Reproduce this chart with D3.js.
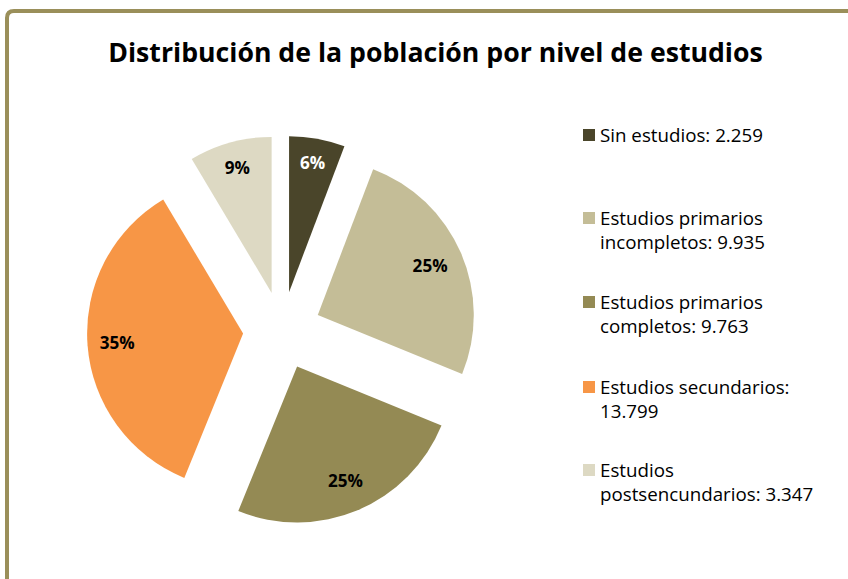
<!DOCTYPE html>
<html><head><meta charset="utf-8">
<script src="https://cdn.jsdelivr.net/npm/d3@7"></script>
<style>
html,body{margin:0;padding:0;background:#fff;}
svg{display:block;}
text{font-family:"Open Sans","Lato",sans-serif;}
</style></head>
<body>
<svg id="chart" width="848" height="579"></svg>
<script>
const title = "Distribución de la población por nivel de estudios";
const categories = ["Sin estudios", "Estudios primarios incompletos", "Estudios primarios completos", "Estudios secundarios", "Estudios postsencundarios"];
const values = [2259, 9935, 9763, 13799, 3347];
const valueLabels = ["2.259", "9.935", "9.763", "13.799", "3.347"];
const legendLines = [
  ["Sin estudios: 2.259"],
  ["Estudios primarios", "incompletos: 9.935"],
  ["Estudios primarios", "completos: 9.763"],
  ["Estudios secundarios:", "13.799"],
  ["Estudios", "postsencundarios: 3.347"]
];
const colors = ["#4a452a", "#c4bd97", "#948a54", "#f79646", "#ddd9c3"];

const svg = d3.select("#chart");

// frame
svg.append("path")
  .attr("d", "M7,579 L7,18 Q7,11 14,11 L848,11")
  .attr("fill", "none").attr("stroke", "#9a8f5a").attr("stroke-width", 4);

function fitText(sel, targetW) {
  const w = sel.node().getComputedTextLength();
  const fs = parseFloat(sel.attr("font-size"));
  sel.attr("font-size", fs * targetW / w);
}

// title
const t = svg.append("text").attr("x", 435.5).attr("y", 62)
  .attr("text-anchor", "middle").attr("font-weight", "bold")
  .attr("font-size", 26).attr("fill", "#000").text(title);
fitText(t, 655);

// pie
const cx = 282, cy = 330.5, r = 156, explode = 39;
const total = d3.sum(values);
const pie = d3.pie().sort(null).value(d => d);
const arcs = pie(values);
const arc = d3.arc().innerRadius(0).outerRadius(r);
const g = svg.append("g").attr("transform", `translate(${cx},${cy})`);

// measure label font size so "25%" is ~35px wide
const probe = svg.append("text").attr("font-weight", "bold").attr("font-size", 16).text("25%");
fitText(probe, 35);
const fsLabel = probe.attr("font-size");
probe.remove();

const labelFactors = [0.84, 0.785, 0.8, 0.81, 0.83];
arcs.forEach((a, i) => {
  const mid = (a.startAngle + a.endAngle) / 2;
  const dx = Math.sin(mid) * explode, dy = -Math.cos(mid) * explode;
  const sg = g.append("g").attr("transform", `translate(${dx},${dy})`);
  sg.append("path").attr("d", arc(a)).attr("fill", colors[i]);
  const lr = r * labelFactors[i];
  sg.append("text")
    .attr("x", Math.sin(mid) * lr).attr("y", -Math.cos(mid) * lr)
    .attr("dy", "0.35em").attr("text-anchor", "middle")
    .attr("font-weight", "bold").attr("font-size", fsLabel)
    .attr("fill", i === 0 ? "#fff" : "#000")
    .text(d3.format(".0%")(values[i] / total));
});

// legend
const legendY = [135, 218, 302, 387, 470];
const lg = svg.append("g");
let fsLegend = null;
legendLines.forEach((lines, i) => {
  lg.append("rect").attr("x", 583).attr("y", legendY[i] - 6).attr("width", 12).attr("height", 12)
    .attr("fill", colors[i]);
  lines.forEach((ln, j) => {
    const tx = lg.append("text").attr("x", 600).attr("y", legendY[i] + j * 24.5)
      .attr("dy", "0.35em").attr("font-size", 17).attr("fill", "#000").text(ln);
    if (i === 0 && j === 0) { fitText(tx, 163); fsLegend = tx.attr("font-size"); }
    else tx.attr("font-size", fsLegend);
  });
});
</script>
</body></html>
